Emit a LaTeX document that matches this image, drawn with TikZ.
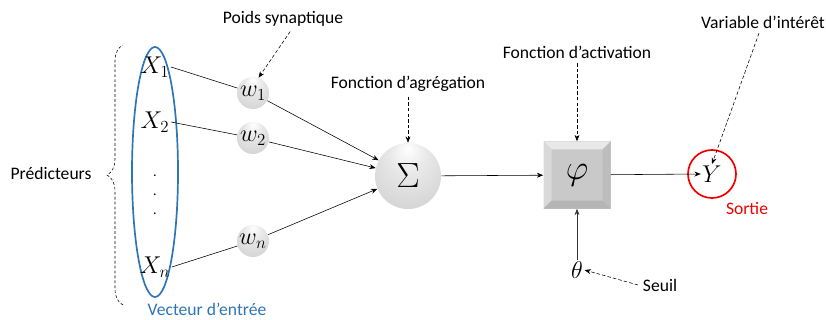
\documentclass[tikz,border=0pt]{standalone}
\usepackage{fontspec}
\setmainfont{Carlito}
\usetikzlibrary{arrows.meta,shapes.geometric,decorations.pathreplacing}
\definecolor{vecblue}{RGB}{46,117,182}
\definecolor{outred}{RGB}{240,0,0}
\pgfdeclareradialshading{softball}{\pgfqpoint{0bp}{22bp}}{color(0bp)=(white); color(14bp)=(gray!18); color(42bp)=(gray!40); color(48bp)=(gray!52); color(50bp)=(gray!62)}

\begin{document}
\begin{tikzpicture}[x=0.025cm,y=-0.025cm,>={Stealth[length=4.5pt,width=3.5pt]},txt/.style={font=\fontsize{12.5}{14}\selectfont},var/.style={font=\fontsize{17}{19}\selectfont,inner sep=1pt},weight/.style={circle,shading=softball,minimum size=0.8cm,inner sep=0pt,font=\fontsize{17}{19}\selectfont},link/.style={->,thin},hint/.style={->,dash pattern=on 2.5pt off 1.5pt,thin},actbox/.style={rectangle,minimum size=1.675cm,fill=gray!42,font=\fontsize{28}{30}\selectfont,path picture={\fill[gray!18] (path picture bounding box.north west) -- (path picture bounding box.north east) -- ++(-0.2cm,-0.2cm) -- ++(-1.275cm,0) -- cycle; \fill[gray!30] (path picture bounding box.north west) -- ++(0.2cm,-0.2cm) -- ++(0,-1.275cm) -- ++(-0.2cm,-0.2cm) -- cycle; \fill[gray!52] (path picture bounding box.north east) -- ++(-0.2cm,-0.2cm) -- ++(0,-1.275cm) -- ++(0.2cm,-0.2cm) -- cycle; \fill[gray!58] (path picture bounding box.south west) -- ++(0.2cm,0.2cm) -- ++(1.275cm,0) -- ++(0.2cm,-0.2cm) -- cycle;}}]
\useasboundingbox (0,0) rectangle (826,320);
% entrees
\node[ellipse,draw=vecblue,line width=1.2pt,minimum width=1.15cm,minimum height=6.25cm] (vec) at (155,172) {};
\node[var] (x1) at (155,67) {$X_1$}; \node[var] (x2) at (155,122) {$X_2$}; \node[var] (xn) at (155,267) {$X_n$};
\foreach \y [count=\i] in {176,195,214} \node[inner sep=0pt] (dot\i) at (155,\y) {.};
\node[txt,text=vecblue] (vlab) at (207,309) {Vecteur d’entrée};
\draw[dash pattern=on 2pt off 1.5pt,decorate,decoration={brace,amplitude=0.4cm}] (123,305) -- (123,45);
\node[txt] (pred) at (51,173) {Prédicteurs};
% poids et agregation
\node[weight] (w1) at (253,93) {$w_1$}; \node[weight] (w2) at (253,138) {$w_2$}; \node[weight] (wn) at (253,241) {$w_n$};
\node[weight,minimum size=1.65cm,font=\fontsize{28}{30}\selectfont] (sum) at (408,176) {$\Sigma$};
\draw (x1.east) -- (w1); \draw (x2.east) -- (w2); \draw (xn.east) -- (wn);
\foreach \w in {w1,w2,wn} \draw[link] (\w) -- (sum);
% activation et sortie
\node[actbox] (act) at (577,175) {$\varphi$};
\node[var] (y) at (712,174) {$Y$}; \node[circle,draw=outred,line width=1.2pt,minimum size=1.2cm] (out) at (y) {};
\node[var] (theta) at (577,270) {$\theta$};
\draw[link] (sum) -- (act); \draw[link] (act) -- (y.west); \draw[link,gray!40!black] (theta) -- (act);
\node[txt,text=outred] (sortie) at (747,208) {Sortie};
% annotations
\node[txt] (poids) at (283,19) {Poids synaptique}; \draw[hint] (poids.-60) -- (w1.70);
\node[txt] (agr) at (408,84) {Fonction d’agrégation}; \draw[hint] (agr) -- (sum);
\node[txt] (activ) at (577,52) {Fonction d’activation}; \draw[hint] (activ) -- (act);
\node[txt] (vint) at (763,22) {Variable d’intérêt}; \draw[hint] (vint) -- (y.north);
\node[txt] (seuil) at (660,285) {Seuil}; \draw[hint] (seuil.west) -- (theta.east);
\end{tikzpicture}
\end{document}
